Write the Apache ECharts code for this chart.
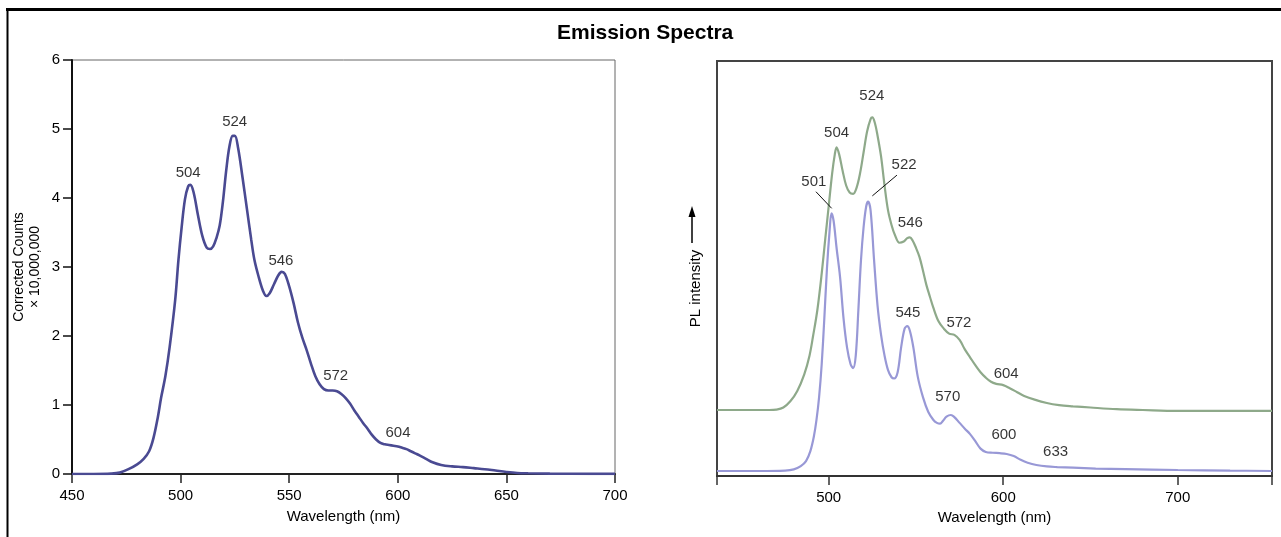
<!DOCTYPE html>
<html><head><meta charset="utf-8">
<script src="https://cdn.jsdelivr.net/npm/echarts@6/dist/echarts.min.js"></script>
<style>html,body{margin:0;padding:0;background:#fff}#c{width:1281px;height:537px}</style>
</head><body><div id="c"></div>
<script>
// ---- Left panel: corrected counts (x 10,000,000) ----
const leftWl = [450,460,468,472,476,480,483,485.5,487.5,489.5,491,493,495,497.5,499,500.5,502,503.5,504.5,506,508,510,512,513.5,515,516.5,518,519.5,521,522.5,524,525,526.5,528.5,530.5,532.5,534,536,538,539.5,541,543,545,546.5,548,550,552,554,556,558,560,562,564,566,568,570,572,574,576,578,580,582,584,586,588,590,592,594,596,598,600,602,604,606,608,610,613,616,620,625,630,635,640,645,650,655,660,670,680,700];
const leftCounts = [0,0,0.005,0.02,0.07,0.14,0.22,0.33,0.52,0.82,1.1,1.42,1.85,2.52,3.1,3.58,3.98,4.17,4.19,4.08,3.75,3.45,3.28,3.26,3.3,3.42,3.6,3.95,4.4,4.75,4.9,4.9,4.72,4.3,3.85,3.4,3.1,2.85,2.65,2.58,2.62,2.75,2.88,2.93,2.9,2.72,2.48,2.2,1.98,1.8,1.6,1.42,1.3,1.23,1.21,1.21,1.2,1.16,1.1,1.02,0.92,0.83,0.74,0.66,0.57,0.5,0.45,0.43,0.42,0.41,0.4,0.38,0.36,0.33,0.3,0.27,0.22,0.17,0.13,0.11,0.1,0.085,0.07,0.05,0.03,0.015,0.01,0.005,0.003,0.002];
const leftPeakText = ['504','524','546','572','604'];
const leftPeakX = [503.5,524.9,546.2,571.4,600.1];
const leftPeakY = [4.37,5.10,3.09,1.42,0.60];
const leftXTicks = [450,500,550,600,650,700];

// ---- Right panel: PL intensity (arbitrary units) ----
const greenWl = [436,450,460,466,470,474,478,482,486,489,491,493.5,496,498,500,502,503.5,504.5,506,508,510,512,514,516,518,520,522,524,525,526.5,528,530,532,534,536,538,540.5,543,545,546.5,548,550,552,554,556,558,560,563,566,569,572,575,578,581,584,587,590,593,596,600,604,608,612,618,625,632,640,650,665,680,700,720,754];
const greenPL = [15.9,15.9,15.9,15.9,16.0,16.5,18.0,20.5,24.5,29,33.6,40,48.8,57,65,73,77.5,79.2,77.5,73.5,70,68.3,68,69.5,73,78,83,86,86.4,85,82,77,70,64,60.5,58,56.2,56.5,57.3,57.5,56.8,55,52.8,49.5,46,43.2,40.5,37.2,35.5,34.3,34,32.8,30.5,28.6,26.7,25,23.7,22.7,22.2,21.9,21.1,20.2,19.3,18.4,17.6,17.1,16.8,16.5,16.1,15.9,15.7,15.7,15.7];
const blueWl = [436,460,475,480,484,487,489.5,491.5,493,494.5,496,497.5,499,500.5,501.6,502.8,504.5,506.5,508.5,510.5,512.5,514,515.5,517,518.5,520,521.5,522.6,524,526,528,530,532,534,536,537.5,539.5,541.5,543.5,545,546.5,548.5,551,554,557,560,562,563.8,565.5,567.5,570,572,575,578,581,584,587,590,594,598,602,606,610,614,619,625,631,640,653,670,700,730,754];
const bluePL = [1.2,1.2,1.3,1.6,2.4,3.6,6,9.5,13.5,19,27,38,50,59,63.3,61.5,55,48,38,31,27,26,29,40,52,60,65,66.1,64,52,41,34,29,25.5,23.8,23.5,25,31,35.5,36.1,35,31,24,19,15.5,13.5,12.8,12.6,13.3,14.3,14.7,14.2,12.8,11.4,10.1,8.4,6.6,5.8,5.6,5.5,5.3,4.8,3.9,3.2,2.65,2.3,2.15,2.0,1.8,1.65,1.45,1.3,1.2];
const rightPeakText = ['504','524','501','522','546','545','572','570','604','600','633'];
const rightPeakX = [504.5,524.7,491.5,543.2,546.8,545.4,574.6,568.2,601.7,600.4,630];
const rightPeakY = [82.8,91.6,70.8,74.9,60.9,39.4,36.9,19.0,24.7,9.8,5.7];
// leader lines for 501 and 522 [x1,y1,x2,y2]
const leader501 = [492.7,68.5,501.7,64.5];
const leader522 = [539.1,72.5,525.0,67.5];
const rightXLabels = [500,600,700];
const rightXTickMarks = [436,500,600,700,754];

const zip = (a,b) => a.map((v,i)=>[v,b[i]]);
const FONT = 'Liberation Sans, Arial, sans-serif';

const chart = echarts.init(document.getElementById('c'), null, {renderer:'canvas'});
chart.setOption({
  backgroundColor:'#fff',
  animation:false,
  title:{text:'Emission Spectra', left:557, top:23, padding:0,
    textStyle:{fontFamily:FONT, fontWeight:'bold', fontSize:21, color:'#000'}},
  graphic:[
    {type:'line', shape:{x1:6,y1:9.5,x2:1281,y2:9.5}, style:{stroke:'#000', lineWidth:3}},
    {type:'line', shape:{x1:7.5,y1:8,x2:7.5,y2:537}, style:{stroke:'#000', lineWidth:2}},
    {type:'line', shape:{x1:692,y1:243,x2:692,y2:214}, style:{stroke:'#000', lineWidth:1.5}},
    {type:'polygon', shape:{points:[[692,206],[688.5,217],[695.5,217]]}, style:{fill:'#000'}}
  ],
  grid:[
    {left:72, right:666, top:60, bottom:63, show:true, borderColor:'#666', borderWidth:1, backgroundColor:'transparent'},
    {left:717, right:9, top:61, bottom:61, show:true, borderColor:'#444', borderWidth:2, backgroundColor:'transparent'}
  ],
  xAxis:[
    {type:'value', gridIndex:0, min:450, max:700, interval:50,
     name:'Wavelength (nm)', nameLocation:'middle', nameGap:35,
     nameTextStyle:{fontFamily:FONT, fontSize:15, color:'#000'},
     axisLine:{lineStyle:{color:'#222', width:2}},
     axisTick:{show:true, length:9, lineStyle:{color:'#222', width:1.5}, customValues:leftXTicks},
     axisLabel:{margin:14, fontFamily:FONT, fontSize:15, color:'#000', customValues:leftXTicks},
     splitLine:{show:false}},
    {type:'value', gridIndex:1, min:436, max:754,
     name:'Wavelength (nm)', nameLocation:'middle', nameGap:34,
     nameTextStyle:{fontFamily:FONT, fontSize:15, color:'#000'},
     axisLine:{lineStyle:{color:'#333', width:2}},
     axisTick:{show:true, length:9, lineStyle:{color:'#333', width:1.5}, customValues:rightXTickMarks},
     axisLabel:{margin:14, fontFamily:FONT, fontSize:15, color:'#000', customValues:rightXLabels},
     splitLine:{show:false}}
  ],
  yAxis:[
    {type:'value', gridIndex:0, min:0, max:6, interval:1,
     name:'Corrected Counts\n\u00d7 10,000,000', nameLocation:'middle', nameGap:29,
     nameTextStyle:{fontFamily:FONT, fontSize:14, color:'#000', lineHeight:16},
     axisLine:{show:true, lineStyle:{color:'#111', width:2}},
     axisTick:{show:true, length:9, lineStyle:{color:'#111', width:1.5}},
     axisLabel:{margin:12, fontFamily:FONT, fontSize:15, color:'#000'},
     splitLine:{show:false}},
    {type:'value', gridIndex:1, min:0, max:100,
     name:'PL intensity', nameLocation:'middle', nameGap:14,
     nameTextStyle:{fontFamily:FONT, fontSize:15, color:'#000', padding:[0,40,0,0]},
     axisLine:{show:true, lineStyle:{color:'#444', width:2}},
     axisTick:{show:false}, axisLabel:{show:false}, splitLine:{show:false}}
  ],
  series:[
    {type:'line', xAxisIndex:0, yAxisIndex:0, data:zip(leftWl,leftCounts), showSymbol:false, smooth:0.35,
     lineStyle:{color:'#4a4a92', width:2.6}, z:3},
    {type:'scatter', xAxisIndex:0, yAxisIndex:0, data:zip(leftPeakX,leftPeakY).map((p,i)=>({value:p, name:leftPeakText[i]})),
     symbolSize:0, silent:true,
     label:{show:true, position:'inside', formatter:p=>p.name, fontFamily:FONT, fontSize:15, color:'#000'}},
    {type:'line', xAxisIndex:1, yAxisIndex:1, data:zip(greenWl,greenPL), showSymbol:false, smooth:0.35,
     lineStyle:{color:'#8ea98a', width:2.2}, z:2},
    {type:'line', xAxisIndex:1, yAxisIndex:1, data:zip(blueWl,bluePL), showSymbol:false, smooth:0.35,
     lineStyle:{color:'#9898d6', width:2.2}, z:3,
     markLine:{silent:true, symbol:'none', label:{show:false}, lineStyle:{color:'#111', width:1, type:'solid'},
       data:[
         [{coord:[leader501[0],leader501[1]]},{coord:[leader501[2],leader501[3]]}],
         [{coord:[leader522[0],leader522[1]]},{coord:[leader522[2],leader522[3]]}]
       ]}},
    {type:'scatter', xAxisIndex:1, yAxisIndex:1, data:zip(rightPeakX,rightPeakY).map((p,i)=>({value:p, name:rightPeakText[i]})),
     symbolSize:0, silent:true,
     label:{show:true, position:'inside', formatter:p=>p.name, fontFamily:FONT, fontSize:15, color:'#000'}}
  ]
});
</script></body></html>
